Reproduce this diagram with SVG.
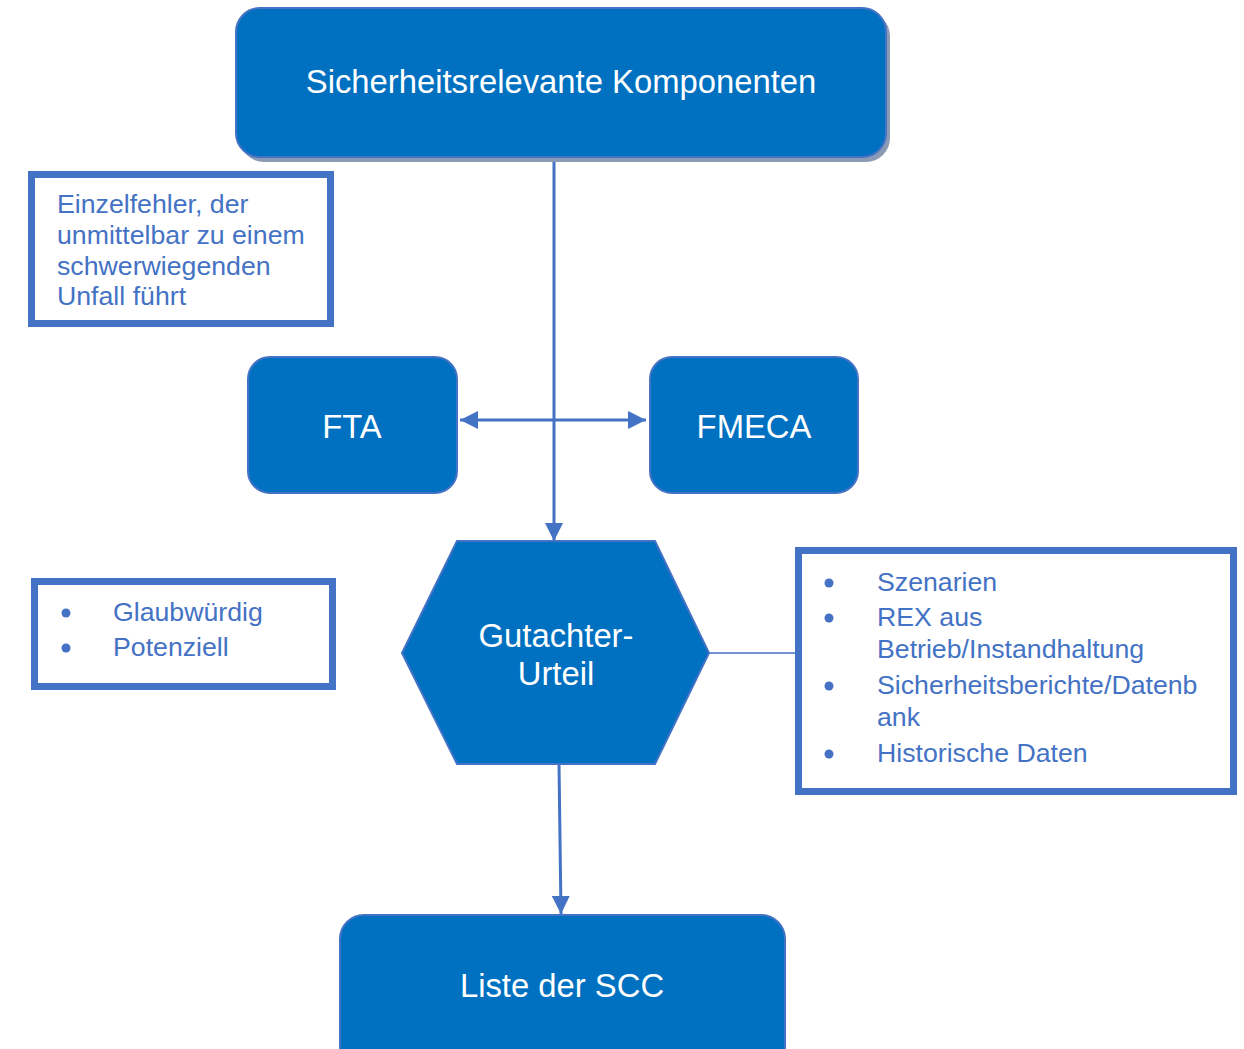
<svg xmlns="http://www.w3.org/2000/svg" width="1244" height="1049" viewBox="0 0 1244 1049">
<style>
.node{fill:#0070C0;stroke:#4472C4;stroke-width:2}
.wt{fill:#ffffff;font-family:"Liberation Sans",Arial,sans-serif;font-size:32.8px;text-anchor:middle}
.box{fill:#ffffff;stroke:#4472C4;stroke-width:7}
.bt{fill:#4472C4;font-family:"Liberation Sans",Arial,sans-serif;font-size:26.7px}
.conn{stroke:#4472C4;stroke-width:3;fill:none}
</style>
<defs>
<marker id="ah" viewBox="0 0 10 10" refX="10" refY="5" markerWidth="6" markerHeight="6" orient="auto-start-reverse" markerUnits="strokeWidth">
<path d="M0,0 L10,5 L0,10 z" fill="#4472C4"/>
</marker>
</defs>
<rect width="1244" height="1049" fill="#ffffff"/>
<g id="connectors">
<line class="conn" x1="554" y1="157" x2="554" y2="541" marker-end="url(#ah)"/>
<line class="conn" x1="460" y1="420" x2="646" y2="420" marker-start="url(#ah)" marker-end="url(#ah)"/>
<line x1="709" y1="653" x2="797" y2="653" stroke="#4472C4" stroke-width="1.5"/>
<line class="conn" x1="559" y1="764" x2="561" y2="914" marker-end="url(#ah)"/>
</g>
<g id="n-top">
<rect x="240" y="12" width="650" height="150" rx="24" fill="#8C9BB5"/>
<rect class="node" x="236" y="8" width="650" height="149" rx="24"/>
<text class="wt" x="561" y="93">Sicherheitsrelevante Komponenten</text>
</g>
<g id="n-einzel">
<rect class="box" x="31.5" y="174.5" width="299" height="149"/>
<text class="bt"><tspan x="57" y="213">Einzelfehler, der</tspan><tspan x="57" y="244">unmittelbar zu einem</tspan><tspan x="57" y="275">schwerwiegenden</tspan><tspan x="57" y="305">Unfall führt</tspan></text>
</g>
<g id="n-fta">
<rect class="node" x="248" y="357" width="209" height="136" rx="22"/>
<text class="wt" x="352" y="438">FTA</text>
</g>
<g id="n-fmeca">
<rect class="node" x="650" y="357" width="208" height="136" rx="22"/>
<text class="wt" x="754" y="438">FMECA</text>
</g>
<g id="n-gutachter">
<polygon class="node" points="457,541 655,541 709,653 655,764 457,764 402,653"/>
<text class="wt"><tspan x="556" y="647">Gutachter-</tspan><tspan x="556" y="685">Urteil</tspan></text>
</g>
<g id="n-glaub">
<rect class="box" x="34.5" y="581.5" width="298" height="105"/>
<circle cx="66" cy="613" r="4.5" fill="#4472C4"/>
<circle cx="66" cy="648" r="4.5" fill="#4472C4"/>
<text class="bt"><tspan x="113" y="621">Glaubwürdig</tspan><tspan x="113" y="656">Potenziell</tspan></text>
</g>
<g id="n-szen">
<rect class="box" x="798.5" y="550.5" width="435" height="241"/>
<circle cx="829" cy="583" r="4.5" fill="#4472C4"/>
<circle cx="829" cy="618" r="4.5" fill="#4472C4"/>
<circle cx="829" cy="686" r="4.5" fill="#4472C4"/>
<circle cx="829" cy="754" r="4.5" fill="#4472C4"/>
<text class="bt"><tspan x="877" y="591">Szenarien</tspan><tspan x="877" y="626">REX aus</tspan><tspan x="877" y="658">Betrieb/Instandhaltung</tspan><tspan x="877" y="694">Sicherheitsberichte/Datenb</tspan><tspan x="877" y="726">ank</tspan><tspan x="877" y="762">Historische Daten</tspan></text>
</g>
<g id="n-liste">
<rect class="node" x="340" y="915" width="445" height="160" rx="24"/>
<text class="wt" x="562" y="997">Liste der SCC</text>
</g>
</svg>
